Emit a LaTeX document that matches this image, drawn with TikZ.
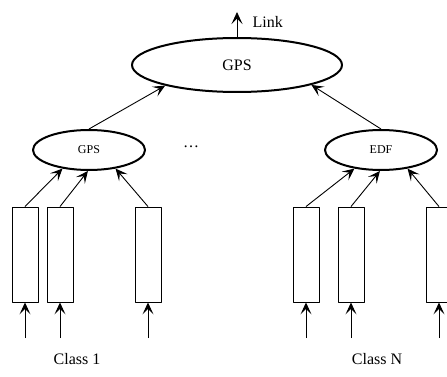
\documentclass[tikz,border=0pt]{standalone}
\usepackage{fontspec}
\setmainfont{Liberation Serif}
\usetikzlibrary{shapes.geometric,arrows.meta}
\begin{document}
\begin{tikzpicture}[x=1pt, y=-1pt, line join=round, >={Stealth[length=12pt,width=11pt,inset=5.5pt]},
	sched/.style={draw, ellipse, line width=2pt, inner sep=0pt},
	queue/.style={draw, rectangle, line width=0.9pt, minimum width=26pt, minimum height=95pt, inner sep=0pt},
	link/.style={->, line width=0.9pt},
	txt/.style={font=\fontsize{16}{18}\selectfont}]
			\useasboundingbox (0,0) rectangle (447,377);
			% schedulers
			\node[sched, minimum width=210pt, minimum height=54pt, txt] (top) at (237,65) {GPS};
			\node[sched, minimum width=112pt, minimum height=40pt, font=\fontsize{12}{14}\selectfont] (gpsL) at (89,150) {GPS};
			\node[sched, minimum width=112pt, minimum height=40pt, font=\fontsize{12}{14}\selectfont] (edfR) at (381,150) {EDF};
			\node[txt] (dots) at (191,147) {\dots};
			% queues of class 1 and class N
			\node[queue] (q1) at (25,254.5) {};
			\node[queue] (q2) at (60,254.5) {};
			\node[queue] (q3) at (148,254.5) {};
			\node[queue] (q4) at (306,254.5) {};
			\node[queue] (q5) at (351,254.5) {};
			\node[queue] (q6) at (439,254.5) {};
			\coordinate (out) at (237,12);
			\foreach \i/\x in {1/25, 2/60, 3/148, 4/306, 5/351, 6/439}
				\coordinate (in\i) at (\x,338);
			% arrows
			\draw[link] (top.north) -- (out);
			\node[txt, anchor=west] (lnk) at (249,22) {Link};
			\draw[link] (gpsL.north) -- (top.-164);
			\draw[link] (edfR.north) -- (top.-15);
			\draw[link] (q1.north) -- (gpsL.-145);
			\draw[link] (q2.north) -- (gpsL.-93);
			\draw[link] (q3.north) -- (gpsL.-35);
			\draw[link] (q4.north) -- (edfR.-145);
			\draw[link] (q5.north) -- (edfR.-93);
			\draw[link] (q6.north) -- (edfR.-35);
			\foreach \i in {1,...,6}
				\draw[link] (in\i) -- (q\i.south);
			\node[txt] (c1) at (77,359) {Class 1};
			\node[txt] (cN) at (377,359) {Class N};
		\end{tikzpicture}
\end{document}
